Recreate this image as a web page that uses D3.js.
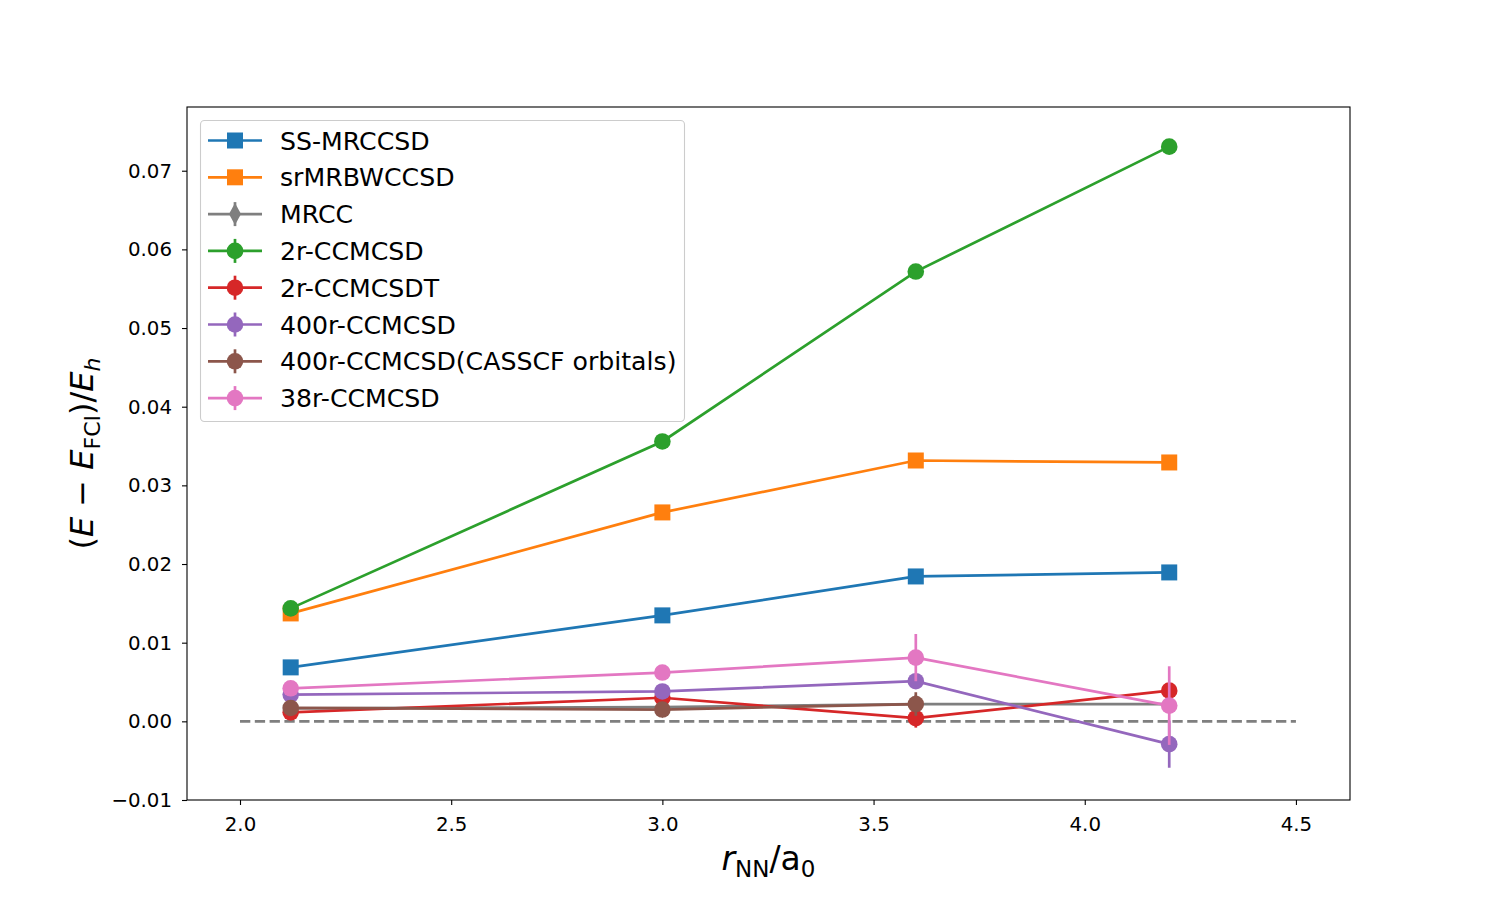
<!DOCTYPE html>
<html>
<head>
<meta charset="utf-8">
<script src="https://cdn.jsdelivr.net/npm/d3@7"></script>
<style>
  body { margin: 0; background: #fff; }
  svg text { font-family: "DejaVu Sans", sans-serif; }
</style>
</head>
<body>
<div id="chart"></div>
<script>
// data
const rValues = [2.12, 3.0, 3.6, 4.2];

const ssMrccsd = [0.00686, 0.01347, 0.01842, 0.01893];
const srMrbwccsd = [0.01372, 0.02656, 0.03316, 0.03291];
const mrcc = [0.00165, 0.0018, 0.0022, 0.0022];
const ccmcsd2r = [0.01436, 0.03558, 0.05718, 0.07306];
const ccmcsdt2r = [0.00114, 0.0030, 0.0004, 0.0039];
const ccmcsdt2rErr = [0.0004, 0.0004, 0.0012, 0.0008];
const ccmcsd400r = [0.0034, 0.0038, 0.0051, -0.0029];
const ccmcsd400rErr = [0.0003, 0.0003, 0.0004, 0.003];
const casscf400r = [0.0017, 0.0015, 0.0022];
const casscf400rErr = [0.0003, 0.0003, 0.0015];
const ccmcsd38r = [0.0042, 0.0062, 0.0081, 0.0020];
const ccmcsd38rErr = [0.0003, 0.0004, 0.003, 0.005];

const xTicks = [2.0, 2.5, 3.0, 3.5, 4.0, 4.5];
const yTicks = [-0.01, 0.0, 0.01, 0.02, 0.03, 0.04, 0.05, 0.06, 0.07];

const series = [
  { name: 'SS-MRCCSD', color: '#1f77b4', marker: 'square', y: ssMrccsd, err: null },
  { name: 'srMRBWCCSD', color: '#ff7f0e', marker: 'square', y: srMrbwccsd, err: null },
  { name: 'MRCC', color: '#7f7f7f', marker: 'diamond', y: mrcc, err: [] },
  { name: '2r-CCMCSD', color: '#2ca02c', marker: 'circle', y: ccmcsd2r, err: [] },
  { name: '2r-CCMCSDT', color: '#d62728', marker: 'circle', y: ccmcsdt2r, err: ccmcsdt2rErr },
  { name: '400r-CCMCSD', color: '#9467bd', marker: 'circle', y: ccmcsd400r, err: ccmcsd400rErr },
  { name: '400r-CCMCSD(CASSCF orbitals)', color: '#8c564b', marker: 'circle', y: casscf400r, err: casscf400rErr },
  { name: '38r-CCMCSD', color: '#e377c2', marker: 'circle', y: ccmcsd38r, err: ccmcsd38rErr }
];

const W = 1500, H = 900;
const margin = { top: 107, right: 150, bottom: 100, left: 187 };
const width = W - margin.left - margin.right;
const height = H - margin.top - margin.bottom;

const svg = d3.select('#chart').append('svg')
  .attr('width', W)
  .attr('height', H);

const g = svg.append('g')
  .attr('transform', `translate(${margin.left},${margin.top})`);

const x = d3.scaleLinear().domain([1.8745, 4.628]).range([0, width]);
const y = d3.scaleLinear().domain([-0.01, 0.0781]).range([height, 0]);

// axes
const xAxis = g.append('g')
  .attr('transform', `translate(0,${height})`)
  .call(d3.axisBottom(x).tickValues(xTicks).tickFormat(d3.format('.1f')).tickSizeOuter(0).tickSize(5).tickPadding(12));
const yAxis = g.append('g')
  .call(d3.axisLeft(y).tickValues(yTicks).tickFormat(d => d < 0 ? '\u2212' + d3.format('.2f')(-d) : d3.format('.2f')(d)).tickSizeOuter(0).tickSize(5).tickPadding(10));
[xAxis, yAxis].forEach(a => {
  a.select('.domain').remove();
  a.selectAll('line').attr('stroke', '#000').attr('stroke-width', 1.1);
  a.selectAll('text').attr('font-size', 19.8).attr('fill', '#000')
    .style('font-family', '"DejaVu Sans", sans-serif');
});

// zero reference line
g.append('line')
  .attr('x1', x(2.0)).attr('x2', x(4.5))
  .attr('y1', y(0)).attr('y2', y(0))
  .attr('stroke', '#7f7f7f')
  .attr('stroke-width', 2.8)
  .attr('stroke-dasharray', '10.3,4.5');

const lw = 2.7;
function drawMarker(sel, type, color, cx, cy) {
  if (type === 'square') {
    sel.append('rect').attr('x', cx - 8).attr('y', cy - 8).attr('width', 16).attr('height', 16).attr('fill', color);
  } else if (type === 'diamond') {
    sel.append('path').attr('d', `M${cx},${cy - 11}L${cx + 6},${cy}L${cx},${cy + 11}L${cx - 6},${cy}Z`).attr('fill', color);
  } else {
    sel.append('circle').attr('cx', cx).attr('cy', cy).attr('r', 8.3).attr('fill', color);
  }
}

const line = d3.line().x(d => x(d[0])).y(d => y(d[1]));

series.forEach(s => {
  const pts = s.y.map((v, i) => [rValues[i], v]);
  const sg = g.append('g');
  sg.append('path')
    .attr('d', line(pts))
    .attr('fill', 'none')
    .attr('stroke', s.color)
    .attr('stroke-width', lw);
  if (s.err) {
    s.err.forEach((e, i) => {
      sg.append('line')
        .attr('x1', x(rValues[i])).attr('x2', x(rValues[i]))
        .attr('y1', y(s.y[i] - e)).attr('y2', y(s.y[i] + e))
        .attr('stroke', s.color).attr('stroke-width', lw);
    });
  }
  pts.forEach(p => drawMarker(sg, s.marker, s.color, x(p[0]), y(p[1])));
});

// frame
g.append('rect')
  .attr('width', width).attr('height', height)
  .attr('fill', 'none').attr('stroke', '#000').attr('stroke-width', 1.1);

// legend
const leg = svg.append('g').attr('transform', 'translate(200,120)');
leg.append('rect')
  .attr('x', 0.5).attr('y', 0.5).attr('width', 484).attr('height', 301).attr('rx', 4)
  .attr('fill', '#fff').attr('fill-opacity', 0.8)
  .attr('stroke', '#cccccc').attr('stroke-width', 1.1);
series.forEach((s, i) => {
  const ly = 20.5 + i * 36.8;
  const row = leg.append('g');
  row.append('line').attr('x1', 8).attr('x2', 62).attr('y1', ly).attr('y2', ly)
    .attr('stroke', s.color).attr('stroke-width', lw);
  if (s.err) {
    row.append('line').attr('x1', 35).attr('x2', 35).attr('y1', ly - 12).attr('y2', ly + 12)
      .attr('stroke', s.color).attr('stroke-width', lw);
  }
  drawMarker(row, s.marker, s.color, 35, ly);
  row.append('text').attr('x', 80).attr('y', ly).attr('dy', '0.36em')
    .attr('font-size', 25.2).attr('fill', '#000').text(s.name);
});

// axis labels
const xl = svg.append('text')
  .attr('x', margin.left + width / 2).attr('y', 870)
  .attr('text-anchor', 'middle').attr('font-size', 33).attr('fill', '#000');
xl.append('tspan').attr('font-style', 'italic').text('r');
xl.append('tspan').attr('font-size', 23).attr('dy', 7).text('NN');
xl.append('tspan').attr('dy', -7).text('/a');
xl.append('tspan').attr('font-size', 23).attr('dy', 7).text('0');

const yl = svg.append('text')
  .attr('transform', `translate(93,${margin.top + height / 2}) rotate(-90)`)
  .attr('text-anchor', 'middle').attr('font-size', 32).attr('fill', '#000');
yl.append('tspan').text('(');
yl.append('tspan').attr('font-style', 'italic').text('E');
yl.append('tspan').text(' \u2212 ');
yl.append('tspan').attr('font-style', 'italic').text('E');
yl.append('tspan').attr('font-size', 22).attr('dy', 7).text('FCI');
yl.append('tspan').attr('dy', -7).text(')/');
yl.append('tspan').attr('font-style', 'italic').text('E');
yl.append('tspan').attr('font-style', 'italic').attr('font-size', 22).attr('dy', 7).text('h');
</script>
</body>
</html>
